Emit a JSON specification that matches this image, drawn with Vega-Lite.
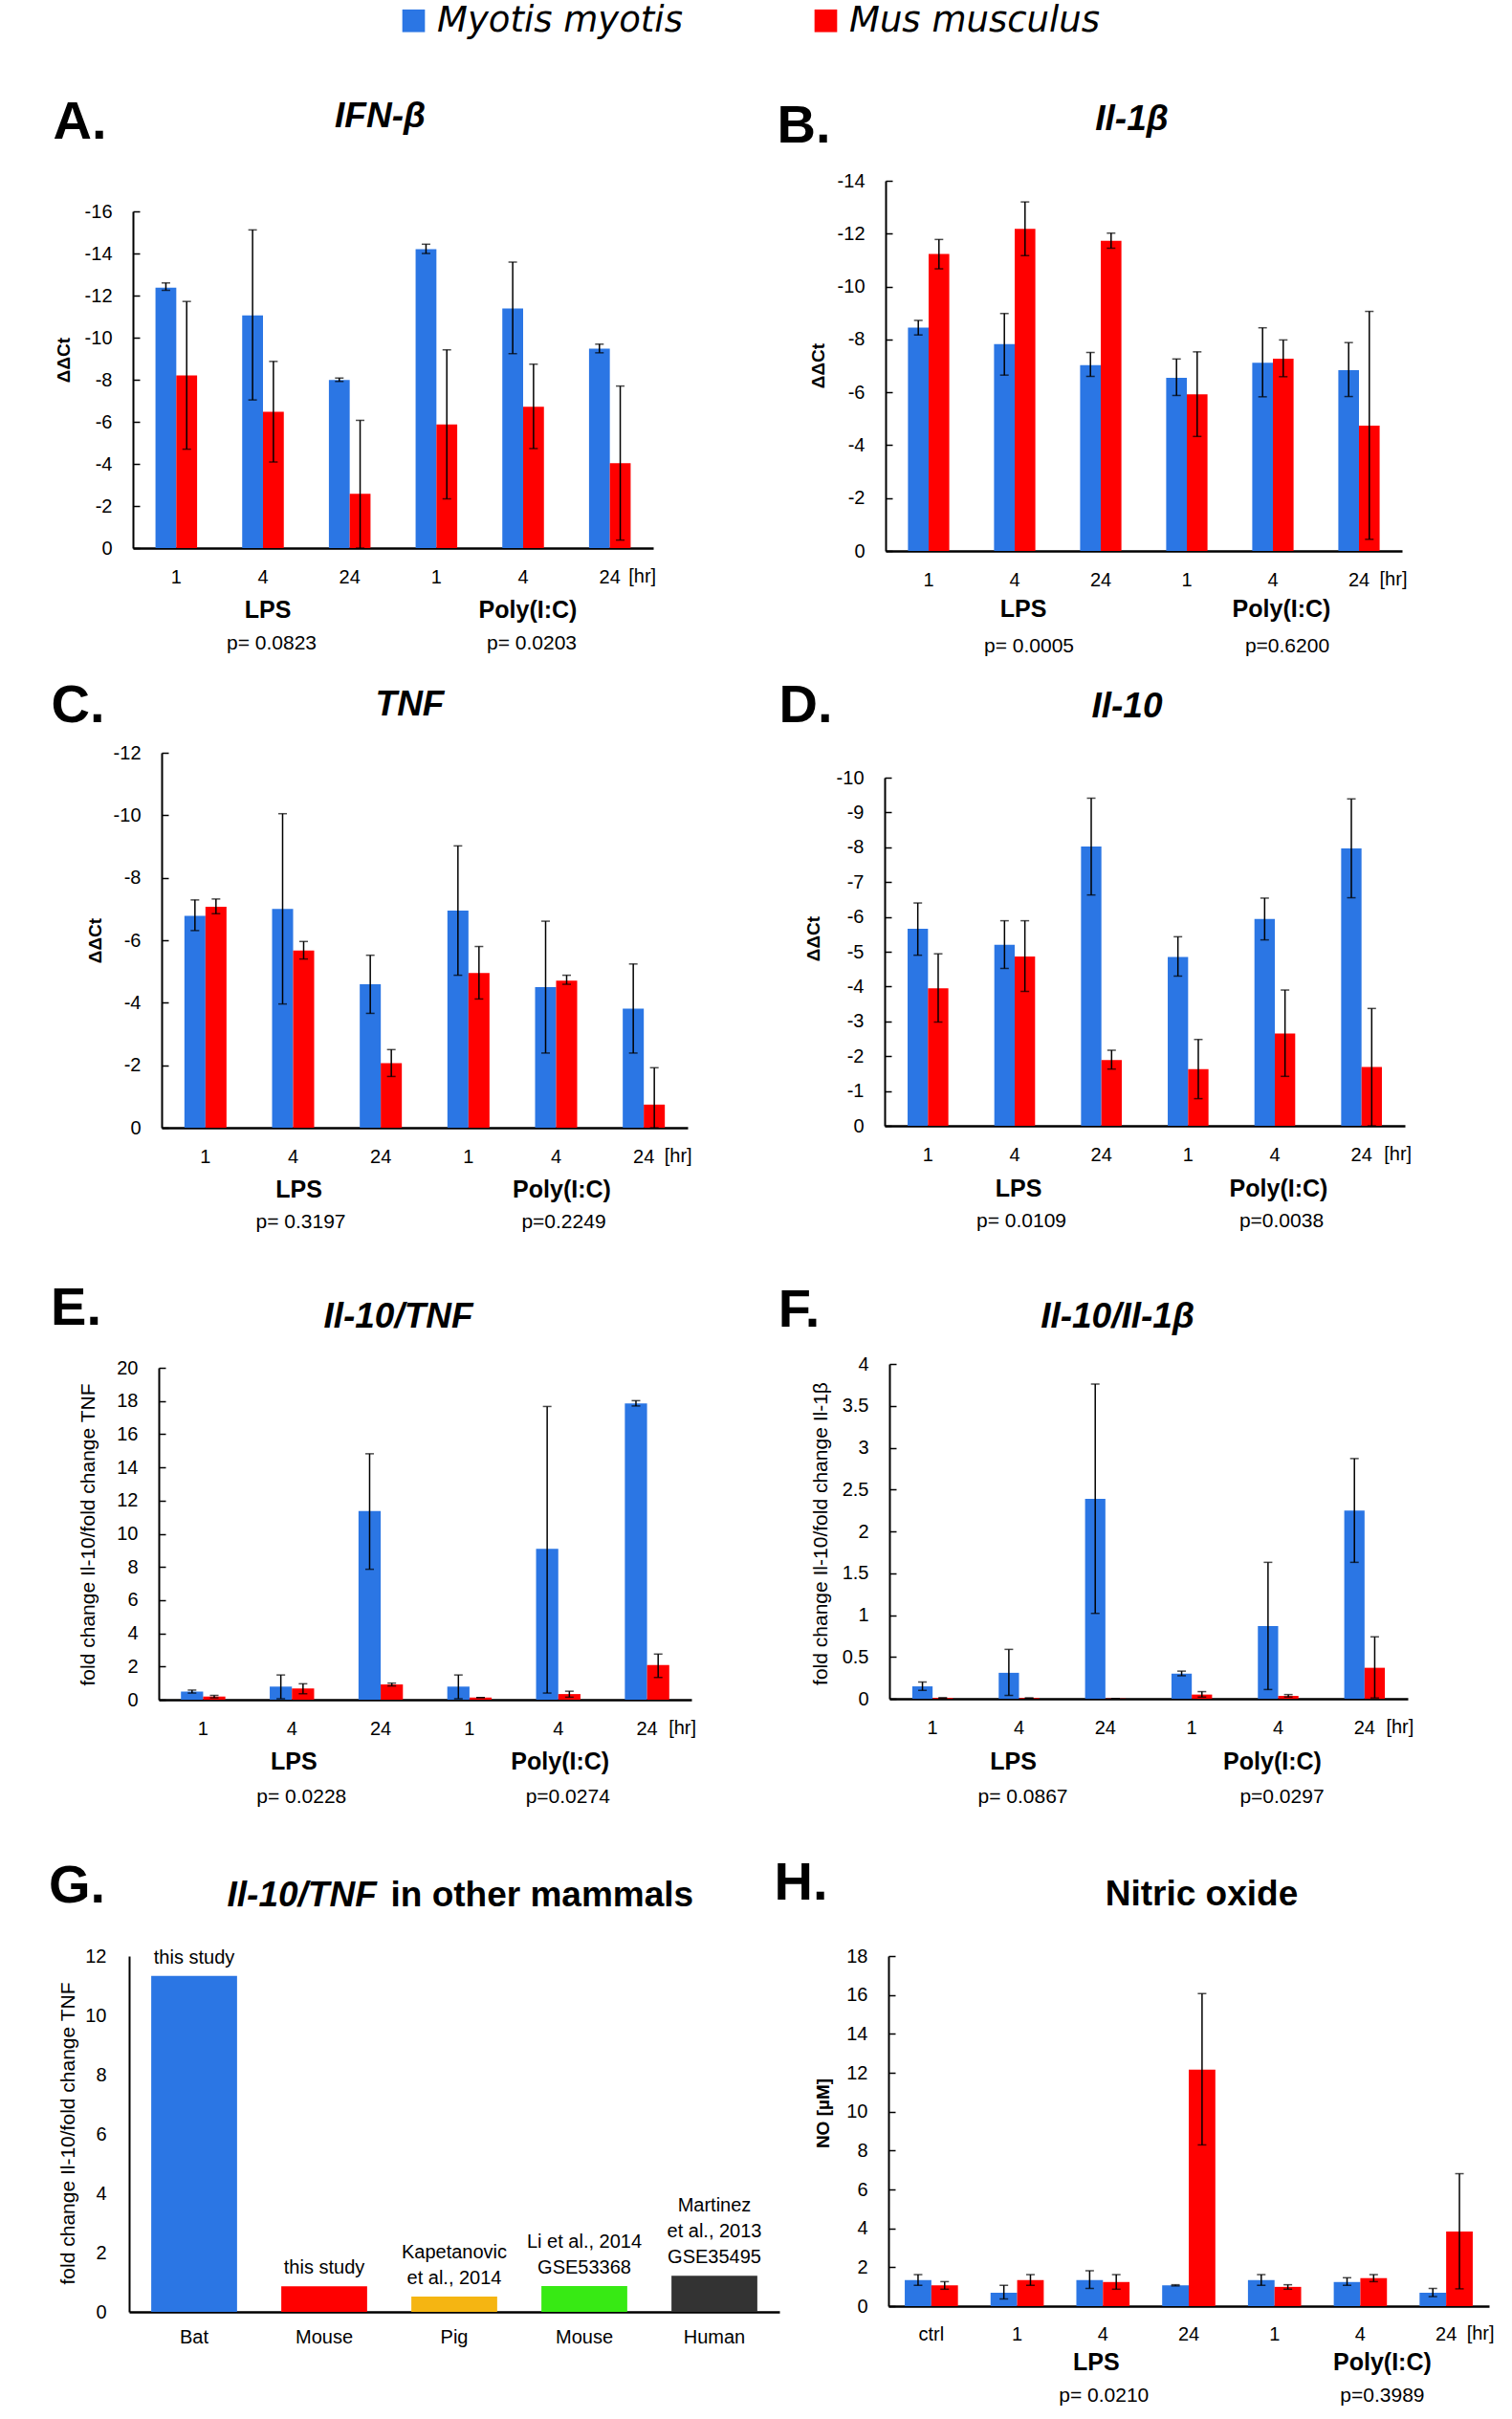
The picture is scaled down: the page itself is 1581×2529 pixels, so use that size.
{
"$schema": "https://vega.github.io/schema/vega-lite/v6.json",
"background": "white",
"padding": {"left": 50, "top": 3, "right": 0, "bottom": 0},
"bounds": "flush",
"align": "each",
"columns": 2,
"spacing": 10,
"resolve": {"scale": {"color": "independent", "xOffset": "independent"}},
"datasets": {
"A": [
{"cond":"LPS 1","sp":"Myotis myotis","v":-12.37,"hi":-12.6,"lo":-12.25},
{"cond":"LPS 1","sp":"Mus musculus","v":-8.2,"hi":-11.72,"lo":-4.7},
{"cond":"LPS 4","sp":"Myotis myotis","v":-11.06,"hi":-15.12,"lo":-7.04},
{"cond":"LPS 4","sp":"Mus musculus","v":-6.48,"hi":-8.87,"lo":-4.09},
{"cond":"LPS 24","sp":"Myotis myotis","v":-7.99,"hi":-8.08,"lo":-7.92},
{"cond":"LPS 24","sp":"Mus musculus","v":-2.58,"hi":-6.07,"lo":0},
{"cond":"Poly 1","sp":"Myotis myotis","v":-14.21,"hi":-14.44,"lo":-14.0},
{"cond":"Poly 1","sp":"Mus musculus","v":-5.87,"hi":-9.42,"lo":-2.34},
{"cond":"Poly 4","sp":"Myotis myotis","v":-11.39,"hi":-13.59,"lo":-9.24},
{"cond":"Poly 4","sp":"Mus musculus","v":-6.72,"hi":-8.74,"lo":-4.73},
{"cond":"Poly 24","sp":"Myotis myotis","v":-9.48,"hi":-9.69,"lo":-9.28},
{"cond":"Poly 24","sp":"Mus musculus","v":-4.03,"hi":-7.7,"lo":-0.38}
],
"B": [
{"cond":"LPS 1","sp":"Myotis myotis","v":-8.45,"hi":-8.72,"lo":-8.17},
{"cond":"LPS 1","sp":"Mus musculus","v":-11.23,"hi":-11.78,"lo":-10.67},
{"cond":"LPS 4","sp":"Myotis myotis","v":-7.82,"hi":-8.98,"lo":-6.65},
{"cond":"LPS 4","sp":"Mus musculus","v":-12.18,"hi":-13.2,"lo":-11.17},
{"cond":"LPS 24","sp":"Myotis myotis","v":-7.03,"hi":-7.51,"lo":-6.6},
{"cond":"LPS 24","sp":"Mus musculus","v":-11.73,"hi":-12.02,"lo":-11.45},
{"cond":"Poly 1","sp":"Myotis myotis","v":-6.55,"hi":-7.26,"lo":-5.88},
{"cond":"Poly 1","sp":"Mus musculus","v":-5.92,"hi":-7.53,"lo":-4.33},
{"cond":"Poly 4","sp":"Myotis myotis","v":-7.12,"hi":-8.44,"lo":-5.83},
{"cond":"Poly 4","sp":"Mus musculus","v":-7.27,"hi":-7.98,"lo":-6.59},
{"cond":"Poly 24","sp":"Myotis myotis","v":-6.84,"hi":-7.88,"lo":-5.84},
{"cond":"Poly 24","sp":"Mus musculus","v":-4.74,"hi":-9.06,"lo":-0.44}
],
"C": [
{"cond":"LPS 1","sp":"Myotis myotis","v":-6.78,"hi":-7.29,"lo":-6.31},
{"cond":"LPS 1","sp":"Mus musculus","v":-7.07,"hi":-7.32,"lo":-6.85},
{"cond":"LPS 4","sp":"Myotis myotis","v":-7.0,"hi":-10.05,"lo":-3.96},
{"cond":"LPS 4","sp":"Mus musculus","v":-5.67,"hi":-5.96,"lo":-5.4},
{"cond":"LPS 24","sp":"Myotis myotis","v":-4.59,"hi":-5.52,"lo":-3.66},
{"cond":"LPS 24","sp":"Mus musculus","v":-2.07,"hi":-2.5,"lo":-1.64},
{"cond":"Poly 1","sp":"Myotis myotis","v":-6.95,"hi":-9.02,"lo":-4.88},
{"cond":"Poly 1","sp":"Mus musculus","v":-4.95,"hi":-5.8,"lo":-4.12},
{"cond":"Poly 4","sp":"Myotis myotis","v":-4.5,"hi":-6.61,"lo":-2.39},
{"cond":"Poly 4","sp":"Mus musculus","v":-4.71,"hi":-4.88,"lo":-4.59},
{"cond":"Poly 24","sp":"Myotis myotis","v":-3.81,"hi":-5.24,"lo":-2.39},
{"cond":"Poly 24","sp":"Mus musculus","v":-0.74,"hi":-1.92,"lo":0}
],
"D": [
{"cond":"LPS 1","sp":"Myotis myotis","v":-5.66,"hi":-6.4,"lo":-4.9},
{"cond":"LPS 1","sp":"Mus musculus","v":-3.95,"hi":-4.94,"lo":-2.98},
{"cond":"LPS 4","sp":"Myotis myotis","v":-5.2,"hi":-5.89,"lo":-4.52},
{"cond":"LPS 4","sp":"Mus musculus","v":-4.86,"hi":-5.89,"lo":-3.86},
{"cond":"LPS 24","sp":"Myotis myotis","v":-8.02,"hi":-9.41,"lo":-6.63},
{"cond":"LPS 24","sp":"Mus musculus","v":-1.89,"hi":-2.17,"lo":-1.63},
{"cond":"Poly 1","sp":"Myotis myotis","v":-4.85,"hi":-5.43,"lo":-4.3},
{"cond":"Poly 1","sp":"Mus musculus","v":-1.63,"hi":-2.48,"lo":-0.78},
{"cond":"Poly 4","sp":"Myotis myotis","v":-5.94,"hi":-6.54,"lo":-5.34},
{"cond":"Poly 4","sp":"Mus musculus","v":-2.65,"hi":-3.9,"lo":-1.42},
{"cond":"Poly 24","sp":"Myotis myotis","v":-7.97,"hi":-9.39,"lo":-6.55},
{"cond":"Poly 24","sp":"Mus musculus","v":-1.69,"hi":-3.37,"lo":0}
],
"E": [
{"cond":"LPS 1","sp":"Myotis myotis","v":0.49,"hi":0.58,"lo":0.4},
{"cond":"LPS 1","sp":"Mus musculus","v":0.19,"hi":0.26,"lo":0.11},
{"cond":"LPS 4","sp":"Myotis myotis","v":0.79,"hi":1.49,"lo":0.06},
{"cond":"LPS 4","sp":"Mus musculus","v":0.68,"hi":0.96,"lo":0.36},
{"cond":"LPS 24","sp":"Myotis myotis","v":11.37,"hi":14.82,"lo":7.86},
{"cond":"LPS 24","sp":"Mus musculus","v":0.92,"hi":1.0,"lo":0.83},
{"cond":"Poly 1","sp":"Myotis myotis","v":0.79,"hi":1.49,"lo":0.06},
{"cond":"Poly 1","sp":"Mus musculus","v":0.13,"hi":0.13,"lo":0.13},
{"cond":"Poly 4","sp":"Myotis myotis","v":9.09,"hi":17.67,"lo":0.4},
{"cond":"Poly 4","sp":"Mus musculus","v":0.34,"hi":0.51,"lo":0.15},
{"cond":"Poly 24","sp":"Myotis myotis","v":17.85,"hi":18.02,"lo":17.7},
{"cond":"Poly 24","sp":"Mus musculus","v":2.09,"hi":2.75,"lo":1.34}
],
"F": [
{"cond":"LPS 1","sp":"Myotis myotis","v":0.148,"hi":0.2,"lo":0.1},
{"cond":"LPS 1","sp":"Mus musculus","v":0.01,"hi":0.01,"lo":0.01},
{"cond":"LPS 4","sp":"Myotis myotis","v":0.31,"hi":0.59,"lo":0.04},
{"cond":"LPS 4","sp":"Mus musculus","v":0.008,"hi":0.008,"lo":0.008},
{"cond":"LPS 24","sp":"Myotis myotis","v":2.39,"hi":3.76,"lo":1.02},
{"cond":"LPS 24","sp":"Mus musculus","v":0.003,"hi":0.003,"lo":0.003},
{"cond":"Poly 1","sp":"Myotis myotis","v":0.3,"hi":0.33,"lo":0.275},
{"cond":"Poly 1","sp":"Mus musculus","v":0.05,"hi":0.085,"lo":0.02},
{"cond":"Poly 4","sp":"Myotis myotis","v":0.87,"hi":1.63,"lo":0.11},
{"cond":"Poly 4","sp":"Mus musculus","v":0.034,"hi":0.05,"lo":0.02},
{"cond":"Poly 24","sp":"Myotis myotis","v":2.25,"hi":2.87,"lo":1.63},
{"cond":"Poly 24","sp":"Mus musculus","v":0.37,"hi":0.74,"lo":0.01}
],
"G": [
{"src":"Bat","v":11.33,"l0":"this study"},
{"src":"Mouse","v":0.86,"l0":"this study"},
{"src":"Pig","v":0.52,"l0":"et al., 2014","l1":"Kapetanovic"},
{"src":"Mouse2","v":0.87,"l0":"GSE53368","l1":"Li et al., 2014"},
{"src":"Human","v":1.22,"l0":"GSE35495","l1":"et al., 2013","l2":"Martinez"}
],
"H": [
{"cond":"ctrl","sp":"Myotis myotis","v":1.34,"hi":1.62,"lo":1.07},
{"cond":"ctrl","sp":"Mus musculus","v":1.07,"hi":1.26,"lo":0.87},
{"cond":"LPS 1","sp":"Myotis myotis","v":0.69,"hi":1.07,"lo":0.37},
{"cond":"LPS 1","sp":"Mus musculus","v":1.34,"hi":1.62,"lo":1.07},
{"cond":"LPS 4","sp":"Myotis myotis","v":1.34,"hi":1.82,"lo":0.91},
{"cond":"LPS 4","sp":"Mus musculus","v":1.24,"hi":1.62,"lo":0.87},
{"cond":"LPS 24","sp":"Myotis myotis","v":1.07,"hi":1.1,"lo":1.04},
{"cond":"LPS 24","sp":"Mus musculus","v":12.16,"hi":16.07,"lo":8.29},
{"cond":"Poly 1","sp":"Myotis myotis","v":1.34,"hi":1.62,"lo":1.07},
{"cond":"Poly 1","sp":"Mus musculus","v":0.99,"hi":1.1,"lo":0.87},
{"cond":"Poly 4","sp":"Myotis myotis","v":1.24,"hi":1.46,"lo":1.07},
{"cond":"Poly 4","sp":"Mus musculus","v":1.44,"hi":1.62,"lo":1.26},
{"cond":"Poly 24","sp":"Myotis myotis","v":0.69,"hi":0.91,"lo":0.49},
{"cond":"Poly 24","sp":"Mus musculus","v":3.83,"hi":6.81,"lo":0.89}
],
"annA": [{"cond":"LPS 4","k":"g","t":"LPS"},{"cond":"Poly 4","k":"g","t":"Poly(I:C)"},{"cond":"LPS 4","k":"p","t":"p= 0.0823"},{"cond":"Poly 4","k":"p","t":"p= 0.0203"},{"cond":"Poly 24","k":"h","t":"[hr]"}],
"annB": [{"cond":"LPS 4","k":"g","t":"LPS"},{"cond":"Poly 4","k":"g","t":"Poly(I:C)"},{"cond":"LPS 4","k":"p","t":"p= 0.0005"},{"cond":"Poly 4","k":"p","t":"p=0.6200"},{"cond":"Poly 24","k":"h","t":"[hr]"}],
"annC": [{"cond":"LPS 4","k":"g","t":"LPS"},{"cond":"Poly 4","k":"g","t":"Poly(I:C)"},{"cond":"LPS 4","k":"p","t":"p= 0.3197"},{"cond":"Poly 4","k":"p","t":"p=0.2249"},{"cond":"Poly 24","k":"h","t":"[hr]"}],
"annD": [{"cond":"LPS 4","k":"g","t":"LPS"},{"cond":"Poly 4","k":"g","t":"Poly(I:C)"},{"cond":"LPS 4","k":"p","t":"p= 0.0109"},{"cond":"Poly 4","k":"p","t":"p=0.0038"},{"cond":"Poly 24","k":"h","t":"[hr]"}],
"annE": [{"cond":"LPS 4","k":"g","t":"LPS"},{"cond":"Poly 4","k":"g","t":"Poly(I:C)"},{"cond":"LPS 4","k":"p","t":"p= 0.0228"},{"cond":"Poly 4","k":"p","t":"p=0.0274"},{"cond":"Poly 24","k":"h","t":"[hr]"}],
"annF": [{"cond":"LPS 4","k":"g","t":"LPS"},{"cond":"Poly 4","k":"g","t":"Poly(I:C)"},{"cond":"LPS 4","k":"p","t":"p= 0.0867"},{"cond":"Poly 4","k":"p","t":"p=0.0297"},{"cond":"Poly 24","k":"h","t":"[hr]"}],
"annH": [{"cond":"LPS 4","k":"g","t":"LPS"},{"cond":"Poly 4","k":"g","t":"Poly(I:C)"},{"cond":"LPS 4","k":"p","t":"p= 0.0210"},{"cond":"Poly 4","k":"p","t":"p=0.3989"},{"cond":"Poly 24","k":"h","t":"[hr]"}]
},
"concat": [
{"width": 820, "height": 550, "resolve": {"axis": {"x": "independent", "y": "independent"}},
"layer": [
{"data": {"name": "A"}, "mark": {"type": "bar"},
"encoding": {
"x": {"field": "cond", "type": "nominal", "scale": {"domain": ["LPS 1","LPS 4","LPS 24","Poly 1","Poly 4","Poly 24"], "range": [89, 633], "paddingInner": 0.52, "paddingOuter": 0.26}, "axis": {"orient": "bottom", "offset": -117, "title": null, "ticks": false, "labelAngle": 0, "labelPadding": 30, "labelBaseline": "middle", "labelExpr": "indexof(datum.label, ' ') > 0 ? split(datum.label, ' ')[1] : datum.label", "domainWidth": 2.5}},
"xOffset": {"field": "sp", "type": "nominal", "scale": {"domain": ["Myotis myotis","Mus musculus"]}},
"y": {"field": "v", "type": "quantitative", "scale": {"domain": [0, -16], "range": [433, 81], "nice": false}, "axis": {"orient": "left", "offset": -89, "values": [0,-2,-4,-6,-8,-10,-12,-14,-16], "labelExpr": "'' + datum.value", "tickSize": -7, "labelPadding": 29, "title": "ΔΔCt", "titleX": -73, "titleY": 236, "titleAngle": -90, "titleAlign": "center", "titleBaseline": "middle", "titleFontSize": 19, "titleFontWeight": "bold"}},
"color": {"field": "sp", "type": "nominal", "scale": {"domain": ["Myotis myotis","Mus musculus"], "range": ["#2b76e4","#ff0000"]}, "legend": {"orient": "none", "legendX": 364, "legendY": -137, "direction": "horizontal", "title": null, "symbolType": "square", "symbolSize": 560, "symbolStrokeWidth": 0, "labelFont": "DejaVu Sans", "labelFontStyle": "italic", "labelFontSize": 37, "labelOffset": 6, "columnPadding": 131, "labelLimit": 500, "labelColor": "black"}}
}},
{"data": {"name": "A"}, "mark": {"type": "rule", "color": "black", "strokeWidth": 1.5},
"encoding": {
"x": {"field": "cond", "type": "nominal", "scale": {"domain": ["LPS 1","LPS 4","LPS 24","Poly 1","Poly 4","Poly 24"], "range": [89, 633], "paddingInner": 0.52, "paddingOuter": 0.26}, "axis": null},
"xOffset": {"field": "sp", "type": "nominal", "scale": {"domain": ["Myotis myotis","Mus musculus"]}},
"y": {"field": "hi", "type": "quantitative", "scale": {"domain": [0, -16], "range": [433, 81], "nice": false}, "axis": null},
"y2": {"field": "lo"}
}},
{"data": {"name": "A"}, "mark": {"type": "tick", "color": "black", "size": 9, "thickness": 1.5},
"encoding": {
"x": {"field": "cond", "type": "nominal", "scale": {"domain": ["LPS 1","LPS 4","LPS 24","Poly 1","Poly 4","Poly 24"], "range": [89, 633], "paddingInner": 0.52, "paddingOuter": 0.26}, "axis": null},
"xOffset": {"field": "sp", "type": "nominal", "scale": {"domain": ["Myotis myotis","Mus musculus"]}},
"y": {"field": "hi", "type": "quantitative", "scale": {"domain": [0, -16], "range": [433, 81], "nice": false}, "axis": null}
}},
{"data": {"name": "A"}, "mark": {"type": "tick", "color": "black", "size": 9, "thickness": 1.5},
"encoding": {
"x": {"field": "cond", "type": "nominal", "scale": {"domain": ["LPS 1","LPS 4","LPS 24","Poly 1","Poly 4","Poly 24"], "range": [89, 633], "paddingInner": 0.52, "paddingOuter": 0.26}, "axis": null},
"xOffset": {"field": "sp", "type": "nominal", "scale": {"domain": ["Myotis myotis","Mus musculus"]}},
"y": {"field": "lo", "type": "quantitative", "scale": {"domain": [0, -16], "range": [433, 81], "nice": false}, "axis": null}
}},
{"data": {"name": "annA"}, "transform": [{"filter": "datum.k == 'g'"}], "mark": {"type": "text", "fontSize": 25, "fontWeight": "bold", "baseline": "middle", "dx": 5, "dy": 65},
"encoding": {
"x": {"field": "cond", "type": "nominal", "scale": {"domain": ["LPS 1","LPS 4","LPS 24","Poly 1","Poly 4","Poly 24"], "range": [89, 633], "paddingInner": 0.52, "paddingOuter": 0.26}, "axis": {"orient": "top", "offset": 0, "labels": false, "ticks": false, "domain": false, "title": "IFN-β", "titleX": 347, "titleY": -19, "titleAngle": 0, "titleAlign": "center", "titleBaseline": "middle", "titleFontSize": 37, "titleFontWeight": "bold", "titleFontStyle": "italic"}},
"y": {"datum": 0, "type": "quantitative", "scale": {"domain": [0, -16], "range": [433, 81], "nice": false}, "axis": {"orient": "right", "offset": 0, "labels": false, "ticks": false, "domain": false, "title": "A.", "titleX": -787, "titleY": -13, "titleAngle": 0, "titleAlign": "center", "titleBaseline": "middle", "titleFontSize": 56, "titleFontWeight": "bold"}},
"text": {"field": "t"}
}},
{"data": {"name": "annA"}, "transform": [{"filter": "datum.k == 'p'"}], "mark": {"type": "text", "fontSize": 21, "baseline": "middle", "dx": 9, "dy": 100},
"encoding": {
"x": {"field": "cond", "type": "nominal", "scale": {"domain": ["LPS 1","LPS 4","LPS 24","Poly 1","Poly 4","Poly 24"], "range": [89, 633], "paddingInner": 0.52, "paddingOuter": 0.26}, "axis": null},
"y": {"datum": 0, "type": "quantitative", "scale": {"domain": [0, -16], "range": [433, 81], "nice": false}, "axis": null},
"text": {"field": "t"}
}},
{"data": {"name": "annA"}, "transform": [{"filter": "datum.k == 'h'"}], "mark": {"type": "text", "fontSize": 20, "baseline": "middle", "dx": 34, "dy": 30},
"encoding": {
"x": {"field": "cond", "type": "nominal", "scale": {"domain": ["LPS 1","LPS 4","LPS 24","Poly 1","Poly 4","Poly 24"], "range": [89, 633], "paddingInner": 0.52, "paddingOuter": 0.26}, "axis": null},
"y": {"datum": 0, "type": "quantitative", "scale": {"domain": [0, -16], "range": [433, 81], "nice": false}, "axis": null},
"text": {"field": "t"}
}}
]},
{"width": 690, "height": 550, "resolve": {"axis": {"x": "independent", "y": "independent"}},
"layer": [
{"data": {"name": "B"}, "mark": {"type": "bar"},
"encoding": {
"x": {"field": "cond", "type": "nominal", "scale": {"domain": ["LPS 1","LPS 4","LPS 24","Poly 1","Poly 4","Poly 24"], "range": [46, 586], "paddingInner": 0.52, "paddingOuter": 0.26}, "axis": {"orient": "bottom", "offset": -114, "title": null, "ticks": false, "labelAngle": 0, "labelPadding": 30, "labelBaseline": "middle", "labelExpr": "indexof(datum.label, ' ') > 0 ? split(datum.label, ' ')[1] : datum.label", "domainWidth": 2.5}},
"xOffset": {"field": "sp", "type": "nominal", "scale": {"domain": ["Myotis myotis","Mus musculus"]}},
"y": {"field": "v", "type": "quantitative", "scale": {"domain": [0, -14], "range": [436, 49], "nice": false}, "axis": {"orient": "left", "offset": -46, "values": [0,-2,-4,-6,-8,-10,-12,-14], "labelExpr": "'' + datum.value", "tickSize": -7, "labelPadding": 29, "title": "ΔΔCt", "titleX": -71, "titleY": 242, "titleAngle": -90, "titleAlign": "center", "titleBaseline": "middle", "titleFontSize": 19, "titleFontWeight": "bold"}},
"color": {"field": "sp", "type": "nominal", "scale": {"domain": ["Myotis myotis","Mus musculus"], "range": ["#2b76e4","#ff0000"]}, "legend": null}
}},
{"data": {"name": "B"}, "mark": {"type": "rule", "color": "black", "strokeWidth": 1.5},
"encoding": {
"x": {"field": "cond", "type": "nominal", "scale": {"domain": ["LPS 1","LPS 4","LPS 24","Poly 1","Poly 4","Poly 24"], "range": [46, 586], "paddingInner": 0.52, "paddingOuter": 0.26}, "axis": null},
"xOffset": {"field": "sp", "type": "nominal", "scale": {"domain": ["Myotis myotis","Mus musculus"]}},
"y": {"field": "hi", "type": "quantitative", "scale": {"domain": [0, -14], "range": [436, 49], "nice": false}, "axis": null},
"y2": {"field": "lo"}
}},
{"data": {"name": "B"}, "mark": {"type": "tick", "color": "black", "size": 9, "thickness": 1.5},
"encoding": {
"x": {"field": "cond", "type": "nominal", "scale": {"domain": ["LPS 1","LPS 4","LPS 24","Poly 1","Poly 4","Poly 24"], "range": [46, 586], "paddingInner": 0.52, "paddingOuter": 0.26}, "axis": null},
"xOffset": {"field": "sp", "type": "nominal", "scale": {"domain": ["Myotis myotis","Mus musculus"]}},
"y": {"field": "hi", "type": "quantitative", "scale": {"domain": [0, -14], "range": [436, 49], "nice": false}, "axis": null}
}},
{"data": {"name": "B"}, "mark": {"type": "tick", "color": "black", "size": 9, "thickness": 1.5},
"encoding": {
"x": {"field": "cond", "type": "nominal", "scale": {"domain": ["LPS 1","LPS 4","LPS 24","Poly 1","Poly 4","Poly 24"], "range": [46, 586], "paddingInner": 0.52, "paddingOuter": 0.26}, "axis": null},
"xOffset": {"field": "sp", "type": "nominal", "scale": {"domain": ["Myotis myotis","Mus musculus"]}},
"y": {"field": "lo", "type": "quantitative", "scale": {"domain": [0, -14], "range": [436, 49], "nice": false}, "axis": null}
}},
{"data": {"name": "annB"}, "transform": [{"filter": "datum.k == 'g'"}], "mark": {"type": "text", "fontSize": 25, "fontWeight": "bold", "baseline": "middle", "dx": 9, "dy": 61},
"encoding": {
"x": {"field": "cond", "type": "nominal", "scale": {"domain": ["LPS 1","LPS 4","LPS 24","Poly 1","Poly 4","Poly 24"], "range": [46, 586], "paddingInner": 0.52, "paddingOuter": 0.26}, "axis": {"orient": "top", "offset": 0, "labels": false, "ticks": false, "domain": false, "title": "Il-1β", "titleX": 303, "titleY": -16, "titleAngle": 0, "titleAlign": "center", "titleBaseline": "middle", "titleFontSize": 37, "titleFontWeight": "bold", "titleFontStyle": "italic"}},
"y": {"datum": 0, "type": "quantitative", "scale": {"domain": [0, -14], "range": [436, 49], "nice": false}, "axis": {"orient": "right", "offset": 0, "labels": false, "ticks": false, "domain": false, "title": "B.", "titleX": -730, "titleY": -9, "titleAngle": 0, "titleAlign": "center", "titleBaseline": "middle", "titleFontSize": 56, "titleFontWeight": "bold"}},
"text": {"field": "t"}
}},
{"data": {"name": "annB"}, "transform": [{"filter": "datum.k == 'p'"}], "mark": {"type": "text", "fontSize": 21, "baseline": "middle", "dx": 15, "dy": 100},
"encoding": {
"x": {"field": "cond", "type": "nominal", "scale": {"domain": ["LPS 1","LPS 4","LPS 24","Poly 1","Poly 4","Poly 24"], "range": [46, 586], "paddingInner": 0.52, "paddingOuter": 0.26}, "axis": null},
"y": {"datum": 0, "type": "quantitative", "scale": {"domain": [0, -14], "range": [436, 49], "nice": false}, "axis": null},
"text": {"field": "t"}
}},
{"data": {"name": "annB"}, "transform": [{"filter": "datum.k == 'h'"}], "mark": {"type": "text", "fontSize": 20, "baseline": "middle", "dx": 36, "dy": 30},
"encoding": {
"x": {"field": "cond", "type": "nominal", "scale": {"domain": ["LPS 1","LPS 4","LPS 24","Poly 1","Poly 4","Poly 24"], "range": [46, 586], "paddingInner": 0.52, "paddingOuter": 0.26}, "axis": null},
"y": {"datum": 0, "type": "quantitative", "scale": {"domain": [0, -14], "range": [436, 49], "nice": false}, "axis": null},
"text": {"field": "t"}
}}
]},
{"width": 820, "height": 610, "resolve": {"axis": {"x": "independent", "y": "independent"}},
"layer": [
{"data": {"name": "C"}, "mark": {"type": "bar"},
"encoding": {
"x": {"field": "cond", "type": "nominal", "scale": {"domain": ["LPS 1","LPS 4","LPS 24","Poly 1","Poly 4","Poly 24"], "range": [119, 669], "paddingInner": 0.52, "paddingOuter": 0.26}, "axis": {"orient": "bottom", "offset": -131, "title": null, "ticks": false, "labelAngle": 0, "labelPadding": 30, "labelBaseline": "middle", "labelExpr": "indexof(datum.label, ' ') > 0 ? split(datum.label, ' ')[1] : datum.label", "domainWidth": 2.5}},
"xOffset": {"field": "sp", "type": "nominal", "scale": {"domain": ["Myotis myotis","Mus musculus"]}},
"y": {"field": "v", "type": "quantitative", "scale": {"domain": [0, -12], "range": [479, 87], "nice": false}, "axis": {"orient": "left", "offset": -119, "values": [0,-2,-4,-6,-8,-10,-12], "labelExpr": "'' + datum.value", "tickSize": -7, "labelPadding": 29, "title": "ΔΔCt", "titleX": -70, "titleY": 283, "titleAngle": -90, "titleAlign": "center", "titleBaseline": "middle", "titleFontSize": 19, "titleFontWeight": "bold"}},
"color": {"field": "sp", "type": "nominal", "scale": {"domain": ["Myotis myotis","Mus musculus"], "range": ["#2b76e4","#ff0000"]}, "legend": null}
}},
{"data": {"name": "C"}, "mark": {"type": "rule", "color": "black", "strokeWidth": 1.5},
"encoding": {
"x": {"field": "cond", "type": "nominal", "scale": {"domain": ["LPS 1","LPS 4","LPS 24","Poly 1","Poly 4","Poly 24"], "range": [119, 669], "paddingInner": 0.52, "paddingOuter": 0.26}, "axis": null},
"xOffset": {"field": "sp", "type": "nominal", "scale": {"domain": ["Myotis myotis","Mus musculus"]}},
"y": {"field": "hi", "type": "quantitative", "scale": {"domain": [0, -12], "range": [479, 87], "nice": false}, "axis": null},
"y2": {"field": "lo"}
}},
{"data": {"name": "C"}, "mark": {"type": "tick", "color": "black", "size": 9, "thickness": 1.5},
"encoding": {
"x": {"field": "cond", "type": "nominal", "scale": {"domain": ["LPS 1","LPS 4","LPS 24","Poly 1","Poly 4","Poly 24"], "range": [119, 669], "paddingInner": 0.52, "paddingOuter": 0.26}, "axis": null},
"xOffset": {"field": "sp", "type": "nominal", "scale": {"domain": ["Myotis myotis","Mus musculus"]}},
"y": {"field": "hi", "type": "quantitative", "scale": {"domain": [0, -12], "range": [479, 87], "nice": false}, "axis": null}
}},
{"data": {"name": "C"}, "mark": {"type": "tick", "color": "black", "size": 9, "thickness": 1.5},
"encoding": {
"x": {"field": "cond", "type": "nominal", "scale": {"domain": ["LPS 1","LPS 4","LPS 24","Poly 1","Poly 4","Poly 24"], "range": [119, 669], "paddingInner": 0.52, "paddingOuter": 0.26}, "axis": null},
"xOffset": {"field": "sp", "type": "nominal", "scale": {"domain": ["Myotis myotis","Mus musculus"]}},
"y": {"field": "lo", "type": "quantitative", "scale": {"domain": [0, -12], "range": [479, 87], "nice": false}, "axis": null}
}},
{"data": {"name": "annC"}, "transform": [{"filter": "datum.k == 'g'"}], "mark": {"type": "text", "fontSize": 25, "fontWeight": "bold", "baseline": "middle", "dx": 6, "dy": 65},
"encoding": {
"x": {"field": "cond", "type": "nominal", "scale": {"domain": ["LPS 1","LPS 4","LPS 24","Poly 1","Poly 4","Poly 24"], "range": [119, 669], "paddingInner": 0.52, "paddingOuter": 0.26}, "axis": {"orient": "top", "offset": 0, "labels": false, "ticks": false, "domain": false, "title": "TNF", "titleX": 378, "titleY": 36, "titleAngle": 0, "titleAlign": "center", "titleBaseline": "middle", "titleFontSize": 37, "titleFontWeight": "bold", "titleFontStyle": "italic"}},
"y": {"datum": 0, "type": "quantitative", "scale": {"domain": [0, -12], "range": [479, 87], "nice": false}, "axis": {"orient": "right", "offset": 0, "labels": false, "ticks": false, "domain": false, "title": "C.", "titleX": -789, "titleY": 37, "titleAngle": 0, "titleAlign": "center", "titleBaseline": "middle", "titleFontSize": 56, "titleFontWeight": "bold"}},
"text": {"field": "t"}
}},
{"data": {"name": "annC"}, "transform": [{"filter": "datum.k == 'p'"}], "mark": {"type": "text", "fontSize": 21, "baseline": "middle", "dx": 8, "dy": 99},
"encoding": {
"x": {"field": "cond", "type": "nominal", "scale": {"domain": ["LPS 1","LPS 4","LPS 24","Poly 1","Poly 4","Poly 24"], "range": [119, 669], "paddingInner": 0.52, "paddingOuter": 0.26}, "axis": null},
"y": {"datum": 0, "type": "quantitative", "scale": {"domain": [0, -12], "range": [479, 87], "nice": false}, "axis": null},
"text": {"field": "t"}
}},
{"data": {"name": "annC"}, "transform": [{"filter": "datum.k == 'h'"}], "mark": {"type": "text", "fontSize": 20, "baseline": "middle", "dx": 36, "dy": 30},
"encoding": {
"x": {"field": "cond", "type": "nominal", "scale": {"domain": ["LPS 1","LPS 4","LPS 24","Poly 1","Poly 4","Poly 24"], "range": [119, 669], "paddingInner": 0.52, "paddingOuter": 0.26}, "axis": null},
"y": {"datum": 0, "type": "quantitative", "scale": {"domain": [0, -12], "range": [479, 87], "nice": false}, "axis": null},
"text": {"field": "t"}
}}
]},
{"width": 690, "height": 610, "resolve": {"axis": {"x": "independent", "y": "independent"}},
"layer": [
{"data": {"name": "D"}, "mark": {"type": "bar"},
"encoding": {
"x": {"field": "cond", "type": "nominal", "scale": {"domain": ["LPS 1","LPS 4","LPS 24","Poly 1","Poly 4","Poly 24"], "range": [45, 589], "paddingInner": 0.53, "paddingOuter": 0.265}, "axis": {"orient": "bottom", "offset": -133, "title": null, "ticks": false, "labelAngle": 0, "labelPadding": 30, "labelBaseline": "middle", "labelExpr": "indexof(datum.label, ' ') > 0 ? split(datum.label, ' ')[1] : datum.label", "domainWidth": 2.5}},
"xOffset": {"field": "sp", "type": "nominal", "scale": {"domain": ["Myotis myotis","Mus musculus"]}},
"y": {"field": "v", "type": "quantitative", "scale": {"domain": [0, -10], "range": [477, 113], "nice": false}, "axis": {"orient": "left", "offset": -45, "values": [0,-1,-2,-3,-4,-5,-6,-7,-8,-9,-10], "labelExpr": "'' + datum.value", "tickSize": -7, "labelPadding": 29, "title": "ΔΔCt", "titleX": -75, "titleY": 281, "titleAngle": -90, "titleAlign": "center", "titleBaseline": "middle", "titleFontSize": 19, "titleFontWeight": "bold"}},
"color": {"field": "sp", "type": "nominal", "scale": {"domain": ["Myotis myotis","Mus musculus"], "range": ["#2b76e4","#ff0000"]}, "legend": null}
}},
{"data": {"name": "D"}, "mark": {"type": "rule", "color": "black", "strokeWidth": 1.5},
"encoding": {
"x": {"field": "cond", "type": "nominal", "scale": {"domain": ["LPS 1","LPS 4","LPS 24","Poly 1","Poly 4","Poly 24"], "range": [45, 589], "paddingInner": 0.53, "paddingOuter": 0.265}, "axis": null},
"xOffset": {"field": "sp", "type": "nominal", "scale": {"domain": ["Myotis myotis","Mus musculus"]}},
"y": {"field": "hi", "type": "quantitative", "scale": {"domain": [0, -10], "range": [477, 113], "nice": false}, "axis": null},
"y2": {"field": "lo"}
}},
{"data": {"name": "D"}, "mark": {"type": "tick", "color": "black", "size": 9, "thickness": 1.5},
"encoding": {
"x": {"field": "cond", "type": "nominal", "scale": {"domain": ["LPS 1","LPS 4","LPS 24","Poly 1","Poly 4","Poly 24"], "range": [45, 589], "paddingInner": 0.53, "paddingOuter": 0.265}, "axis": null},
"xOffset": {"field": "sp", "type": "nominal", "scale": {"domain": ["Myotis myotis","Mus musculus"]}},
"y": {"field": "hi", "type": "quantitative", "scale": {"domain": [0, -10], "range": [477, 113], "nice": false}, "axis": null}
}},
{"data": {"name": "D"}, "mark": {"type": "tick", "color": "black", "size": 9, "thickness": 1.5},
"encoding": {
"x": {"field": "cond", "type": "nominal", "scale": {"domain": ["LPS 1","LPS 4","LPS 24","Poly 1","Poly 4","Poly 24"], "range": [45, 589], "paddingInner": 0.53, "paddingOuter": 0.265}, "axis": null},
"xOffset": {"field": "sp", "type": "nominal", "scale": {"domain": ["Myotis myotis","Mus musculus"]}},
"y": {"field": "lo", "type": "quantitative", "scale": {"domain": [0, -10], "range": [477, 113], "nice": false}, "axis": null}
}},
{"data": {"name": "annD"}, "transform": [{"filter": "datum.k == 'g'"}], "mark": {"type": "text", "fontSize": 25, "fontWeight": "bold", "baseline": "middle", "dx": 4, "dy": 66},
"encoding": {
"x": {"field": "cond", "type": "nominal", "scale": {"domain": ["LPS 1","LPS 4","LPS 24","Poly 1","Poly 4","Poly 24"], "range": [45, 589], "paddingInner": 0.53, "paddingOuter": 0.265}, "axis": {"orient": "top", "offset": 0, "labels": false, "ticks": false, "domain": false, "title": "Il-10", "titleX": 298, "titleY": 38, "titleAngle": 0, "titleAlign": "center", "titleBaseline": "middle", "titleFontSize": 37, "titleFontWeight": "bold", "titleFontStyle": "italic"}},
"y": {"datum": 0, "type": "quantitative", "scale": {"domain": [0, -10], "range": [477, 113], "nice": false}, "axis": {"orient": "right", "offset": 0, "labels": false, "ticks": false, "domain": false, "title": "D.", "titleX": -728, "titleY": 37, "titleAngle": 0, "titleAlign": "center", "titleBaseline": "middle", "titleFontSize": 56, "titleFontWeight": "bold"}},
"text": {"field": "t"}
}},
{"data": {"name": "annD"}, "transform": [{"filter": "datum.k == 'p'"}], "mark": {"type": "text", "fontSize": 21, "baseline": "middle", "dx": 7, "dy": 100},
"encoding": {
"x": {"field": "cond", "type": "nominal", "scale": {"domain": ["LPS 1","LPS 4","LPS 24","Poly 1","Poly 4","Poly 24"], "range": [45, 589], "paddingInner": 0.53, "paddingOuter": 0.265}, "axis": null},
"y": {"datum": 0, "type": "quantitative", "scale": {"domain": [0, -10], "range": [477, 113], "nice": false}, "axis": null},
"text": {"field": "t"}
}},
{"data": {"name": "annD"}, "transform": [{"filter": "datum.k == 'h'"}], "mark": {"type": "text", "fontSize": 20, "baseline": "middle", "dx": 38, "dy": 30},
"encoding": {
"x": {"field": "cond", "type": "nominal", "scale": {"domain": ["LPS 1","LPS 4","LPS 24","Poly 1","Poly 4","Poly 24"], "range": [45, 589], "paddingInner": 0.53, "paddingOuter": 0.265}, "axis": null},
"y": {"datum": 0, "type": "quantitative", "scale": {"domain": [0, -10], "range": [477, 113], "nice": false}, "axis": null},
"text": {"field": "t"}
}}
]},
{"width": 820, "height": 590, "resolve": {"axis": {"x": "independent", "y": "independent"}},
"layer": [
{"data": {"name": "E"}, "mark": {"type": "bar"},
"encoding": {
"x": {"field": "cond", "type": "nominal", "scale": {"domain": ["LPS 1","LPS 4","LPS 24","Poly 1","Poly 4","Poly 24"], "range": [116, 673], "paddingInner": 0.5, "paddingOuter": 0.25}, "axis": {"orient": "bottom", "offset": -133, "title": null, "ticks": false, "labelAngle": 0, "labelPadding": 30, "labelBaseline": "middle", "labelExpr": "indexof(datum.label, ' ') > 0 ? split(datum.label, ' ')[1] : datum.label", "domainWidth": 2.5}},
"xOffset": {"field": "sp", "type": "nominal", "scale": {"domain": ["Myotis myotis","Mus musculus"]}},
"y": {"field": "v", "type": "quantitative", "scale": {"domain": [0, 20], "range": [457, 110], "nice": false}, "axis": {"orient": "left", "offset": -116, "values": [0,2,4,6,8,10,12,14,16,18,20], "labelExpr": "'' + datum.value", "tickSize": -7, "labelPadding": 29, "title": "fold change Il-10/fold change TNF", "titleX": -74, "titleY": 284, "titleAngle": -90, "titleAlign": "center", "titleBaseline": "middle", "titleFontSize": 21, "titleFontWeight": "normal"}},
"color": {"field": "sp", "type": "nominal", "scale": {"domain": ["Myotis myotis","Mus musculus"], "range": ["#2b76e4","#ff0000"]}, "legend": null}
}},
{"data": {"name": "E"}, "mark": {"type": "rule", "color": "black", "strokeWidth": 1.5},
"encoding": {
"x": {"field": "cond", "type": "nominal", "scale": {"domain": ["LPS 1","LPS 4","LPS 24","Poly 1","Poly 4","Poly 24"], "range": [116, 673], "paddingInner": 0.5, "paddingOuter": 0.25}, "axis": null},
"xOffset": {"field": "sp", "type": "nominal", "scale": {"domain": ["Myotis myotis","Mus musculus"]}},
"y": {"field": "hi", "type": "quantitative", "scale": {"domain": [0, 20], "range": [457, 110], "nice": false}, "axis": null},
"y2": {"field": "lo"}
}},
{"data": {"name": "E"}, "mark": {"type": "tick", "color": "black", "size": 9, "thickness": 1.5},
"encoding": {
"x": {"field": "cond", "type": "nominal", "scale": {"domain": ["LPS 1","LPS 4","LPS 24","Poly 1","Poly 4","Poly 24"], "range": [116, 673], "paddingInner": 0.5, "paddingOuter": 0.25}, "axis": null},
"xOffset": {"field": "sp", "type": "nominal", "scale": {"domain": ["Myotis myotis","Mus musculus"]}},
"y": {"field": "hi", "type": "quantitative", "scale": {"domain": [0, 20], "range": [457, 110], "nice": false}, "axis": null}
}},
{"data": {"name": "E"}, "mark": {"type": "tick", "color": "black", "size": 9, "thickness": 1.5},
"encoding": {
"x": {"field": "cond", "type": "nominal", "scale": {"domain": ["LPS 1","LPS 4","LPS 24","Poly 1","Poly 4","Poly 24"], "range": [116, 673], "paddingInner": 0.5, "paddingOuter": 0.25}, "axis": null},
"xOffset": {"field": "sp", "type": "nominal", "scale": {"domain": ["Myotis myotis","Mus musculus"]}},
"y": {"field": "lo", "type": "quantitative", "scale": {"domain": [0, 20], "range": [457, 110], "nice": false}, "axis": null}
}},
{"data": {"name": "annE"}, "transform": [{"filter": "datum.k == 'g'"}], "mark": {"type": "text", "fontSize": 25, "fontWeight": "bold", "baseline": "middle", "dx": 2, "dy": 65},
"encoding": {
"x": {"field": "cond", "type": "nominal", "scale": {"domain": ["LPS 1","LPS 4","LPS 24","Poly 1","Poly 4","Poly 24"], "range": [116, 673], "paddingInner": 0.5, "paddingOuter": 0.25}, "axis": {"orient": "top", "offset": 0, "labels": false, "ticks": false, "domain": false, "title": "Il-10/TNF", "titleX": 366, "titleY": 56, "titleAngle": 0, "titleAlign": "center", "titleBaseline": "middle", "titleFontSize": 37, "titleFontWeight": "bold", "titleFontStyle": "italic"}},
"y": {"datum": 0, "type": "quantitative", "scale": {"domain": [0, 20], "range": [457, 110], "nice": false}, "axis": {"orient": "right", "offset": 0, "labels": false, "ticks": false, "domain": false, "title": "E.", "titleX": -791, "titleY": 47, "titleAngle": 0, "titleAlign": "center", "titleBaseline": "middle", "titleFontSize": 56, "titleFontWeight": "bold"}},
"text": {"field": "t"}
}},
{"data": {"name": "annE"}, "transform": [{"filter": "datum.k == 'p'"}], "mark": {"type": "text", "fontSize": 21, "baseline": "middle", "dx": 10, "dy": 102},
"encoding": {
"x": {"field": "cond", "type": "nominal", "scale": {"domain": ["LPS 1","LPS 4","LPS 24","Poly 1","Poly 4","Poly 24"], "range": [116, 673], "paddingInner": 0.5, "paddingOuter": 0.25}, "axis": null},
"y": {"datum": 0, "type": "quantitative", "scale": {"domain": [0, 20], "range": [457, 110], "nice": false}, "axis": null},
"text": {"field": "t"}
}},
{"data": {"name": "annE"}, "transform": [{"filter": "datum.k == 'h'"}], "mark": {"type": "text", "fontSize": 20, "baseline": "middle", "dx": 37, "dy": 30},
"encoding": {
"x": {"field": "cond", "type": "nominal", "scale": {"domain": ["LPS 1","LPS 4","LPS 24","Poly 1","Poly 4","Poly 24"], "range": [116, 673], "paddingInner": 0.5, "paddingOuter": 0.25}, "axis": null},
"y": {"datum": 0, "type": "quantitative", "scale": {"domain": [0, 20], "range": [457, 110], "nice": false}, "axis": null},
"text": {"field": "t"}
}}
]},
{"width": 690, "height": 590, "resolve": {"axis": {"x": "independent", "y": "independent"}},
"layer": [
{"data": {"name": "F"}, "mark": {"type": "bar"},
"encoding": {
"x": {"field": "cond", "type": "nominal", "scale": {"domain": ["LPS 1","LPS 4","LPS 24","Poly 1","Poly 4","Poly 24"], "range": [50, 592], "paddingInner": 0.53, "paddingOuter": 0.265}, "axis": {"orient": "bottom", "offset": -134, "title": null, "ticks": false, "labelAngle": 0, "labelPadding": 30, "labelBaseline": "middle", "labelExpr": "indexof(datum.label, ' ') > 0 ? split(datum.label, ' ')[1] : datum.label", "domainWidth": 2.5}},
"xOffset": {"field": "sp", "type": "nominal", "scale": {"domain": ["Myotis myotis","Mus musculus"]}},
"y": {"field": "v", "type": "quantitative", "scale": {"domain": [0, 4], "range": [456, 106], "nice": false}, "axis": {"orient": "left", "offset": -50, "values": [0,0.5,1,1.5,2,2.5,3,3.5,4], "labelExpr": "'' + datum.value", "tickSize": -7, "labelPadding": 29, "title": "fold change Il-10/fold change Il-1β", "titleX": -72, "titleY": 283, "titleAngle": -90, "titleAlign": "center", "titleBaseline": "middle", "titleFontSize": 21, "titleFontWeight": "normal"}},
"color": {"field": "sp", "type": "nominal", "scale": {"domain": ["Myotis myotis","Mus musculus"], "range": ["#2b76e4","#ff0000"]}, "legend": null}
}},
{"data": {"name": "F"}, "mark": {"type": "rule", "color": "black", "strokeWidth": 1.5},
"encoding": {
"x": {"field": "cond", "type": "nominal", "scale": {"domain": ["LPS 1","LPS 4","LPS 24","Poly 1","Poly 4","Poly 24"], "range": [50, 592], "paddingInner": 0.53, "paddingOuter": 0.265}, "axis": null},
"xOffset": {"field": "sp", "type": "nominal", "scale": {"domain": ["Myotis myotis","Mus musculus"]}},
"y": {"field": "hi", "type": "quantitative", "scale": {"domain": [0, 4], "range": [456, 106], "nice": false}, "axis": null},
"y2": {"field": "lo"}
}},
{"data": {"name": "F"}, "mark": {"type": "tick", "color": "black", "size": 9, "thickness": 1.5},
"encoding": {
"x": {"field": "cond", "type": "nominal", "scale": {"domain": ["LPS 1","LPS 4","LPS 24","Poly 1","Poly 4","Poly 24"], "range": [50, 592], "paddingInner": 0.53, "paddingOuter": 0.265}, "axis": null},
"xOffset": {"field": "sp", "type": "nominal", "scale": {"domain": ["Myotis myotis","Mus musculus"]}},
"y": {"field": "hi", "type": "quantitative", "scale": {"domain": [0, 4], "range": [456, 106], "nice": false}, "axis": null}
}},
{"data": {"name": "F"}, "mark": {"type": "tick", "color": "black", "size": 9, "thickness": 1.5},
"encoding": {
"x": {"field": "cond", "type": "nominal", "scale": {"domain": ["LPS 1","LPS 4","LPS 24","Poly 1","Poly 4","Poly 24"], "range": [50, 592], "paddingInner": 0.53, "paddingOuter": 0.265}, "axis": null},
"xOffset": {"field": "sp", "type": "nominal", "scale": {"domain": ["Myotis myotis","Mus musculus"]}},
"y": {"field": "lo", "type": "quantitative", "scale": {"domain": [0, 4], "range": [456, 106], "nice": false}, "axis": null}
}},
{"data": {"name": "annF"}, "transform": [{"filter": "datum.k == 'g'"}], "mark": {"type": "text", "fontSize": 25, "fontWeight": "bold", "baseline": "middle", "dx": -6, "dy": 66},
"encoding": {
"x": {"field": "cond", "type": "nominal", "scale": {"domain": ["LPS 1","LPS 4","LPS 24","Poly 1","Poly 4","Poly 24"], "range": [50, 592], "paddingInner": 0.53, "paddingOuter": 0.265}, "axis": {"orient": "top", "offset": 0, "labels": false, "ticks": false, "domain": false, "title": "Il-10/Il-1β", "titleX": 288, "titleY": 56, "titleAngle": 0, "titleAlign": "center", "titleBaseline": "middle", "titleFontSize": 37, "titleFontWeight": "bold", "titleFontStyle": "italic"}},
"y": {"datum": 0, "type": "quantitative", "scale": {"domain": [0, 4], "range": [456, 106], "nice": false}, "axis": {"orient": "right", "offset": 0, "labels": false, "ticks": false, "domain": false, "title": "F.", "titleX": -735, "titleY": 49, "titleAngle": 0, "titleAlign": "center", "titleBaseline": "middle", "titleFontSize": 56, "titleFontWeight": "bold"}},
"text": {"field": "t"}
}},
{"data": {"name": "annF"}, "transform": [{"filter": "datum.k == 'p'"}], "mark": {"type": "text", "fontSize": 21, "baseline": "middle", "dx": 4, "dy": 103},
"encoding": {
"x": {"field": "cond", "type": "nominal", "scale": {"domain": ["LPS 1","LPS 4","LPS 24","Poly 1","Poly 4","Poly 24"], "range": [50, 592], "paddingInner": 0.53, "paddingOuter": 0.265}, "axis": null},
"y": {"datum": 0, "type": "quantitative", "scale": {"domain": [0, 4], "range": [456, 106], "nice": false}, "axis": null},
"text": {"field": "t"}
}},
{"data": {"name": "annF"}, "transform": [{"filter": "datum.k == 'h'"}], "mark": {"type": "text", "fontSize": 20, "baseline": "middle", "dx": 37, "dy": 30},
"encoding": {
"x": {"field": "cond", "type": "nominal", "scale": {"domain": ["LPS 1","LPS 4","LPS 24","Poly 1","Poly 4","Poly 24"], "range": [50, 592], "paddingInner": 0.53, "paddingOuter": 0.265}, "axis": null},
"y": {"datum": 0, "type": "quantitative", "scale": {"domain": [0, 4], "range": [456, 106], "nice": false}, "axis": null},
"text": {"field": "t"}
}}
]},
{"width": 820, "height": 520, "resolve": {"axis": {"x": "independent", "y": "independent"}},
"layer": [
{"data": {"name": "G"}, "mark": {"type": "bar"},
"encoding": {
"x": {"field": "src", "type": "nominal", "scale": {"domain": ["Bat","Mouse","Pig","Mouse2","Human"], "range": [85, 765], "paddingInner": 0.34, "paddingOuter": 0.17}, "axis": {"orient": "bottom", "offset": -23, "ticks": false, "labelAngle": 0, "labelPadding": 26, "labelBaseline": "middle", "labelExpr": "datum.label == 'Mouse2' ? 'Mouse' : datum.label", "domainWidth": 2.5, "title": "in other mammals", "titleX": 358, "titleY": -436, "titleAngle": 0, "titleAlign": "left", "titleBaseline": "middle", "titleFontSize": 37, "titleFontWeight": "bold"}},
"y": {"field": "v", "type": "quantitative", "scale": {"domain": [0, 12], "range": [497, 125], "nice": false}, "axis": {"orient": "left", "offset": -85, "values": [0,2,4,6,8,10,12], "labelExpr": "'' + datum.value", "tickSize": 0, "labelPadding": 24, "title": "fold change Il-10/fold change TNF", "titleX": -64, "titleY": 310, "titleAngle": -90, "titleAlign": "center", "titleBaseline": "middle", "titleFontSize": 21, "titleFontWeight": "normal"}},
"color": {"field": "src", "type": "nominal", "scale": {"domain": ["Bat","Mouse","Pig","Mouse2","Human"], "range": ["#2b76e4","#ff0000","#f5b512","#37ea14","#333333"]}, "legend": null}
}},
{"data": {"name": "G"}, "mark": {"type": "text", "fontSize": 20, "baseline": "bottom", "dy": -9},
"encoding": {
"x": {"field": "src", "type": "nominal", "scale": {"domain": ["Bat","Mouse","Pig","Mouse2","Human"], "range": [85, 765], "paddingInner": 0.34, "paddingOuter": 0.17}, "axis": {"orient": "top", "offset": 0, "labels": false, "ticks": false, "domain": false, "title": "Il-10/TNF", "titleX": 187, "titleY": 61, "titleAngle": 0, "titleAlign": "left", "titleBaseline": "middle", "titleFontSize": 37, "titleFontWeight": "bold", "titleFontStyle": "italic"}},
"y": {"field": "v", "type": "quantitative", "scale": {"domain": [0, 12], "range": [497, 125], "nice": false}, "axis": {"orient": "right", "offset": 0, "labels": false, "ticks": false, "domain": false, "title": "G.", "titleX": -790, "titleY": 51, "titleAngle": 0, "titleAlign": "center", "titleBaseline": "middle", "titleFontSize": 56, "titleFontWeight": "bold"}},
"text": {"field": "l0"}
}},
{"data": {"name": "G"}, "transform": [{"filter": "isValid(datum.l1)"}], "mark": {"type": "text", "fontSize": 20, "baseline": "bottom", "dy": -36},
"encoding": {
"x": {"field": "src", "type": "nominal", "scale": {"domain": ["Bat","Mouse","Pig","Mouse2","Human"], "range": [85, 765], "paddingInner": 0.34, "paddingOuter": 0.17}, "axis": null},
"y": {"field": "v", "type": "quantitative", "scale": {"domain": [0, 12], "range": [497, 125], "nice": false}, "axis": null},
"text": {"field": "l1"}
}},
{"data": {"name": "G"}, "transform": [{"filter": "isValid(datum.l2)"}], "mark": {"type": "text", "fontSize": 20, "baseline": "bottom", "dy": -63},
"encoding": {
"x": {"field": "src", "type": "nominal", "scale": {"domain": ["Bat","Mouse","Pig","Mouse2","Human"], "range": [85, 765], "paddingInner": 0.34, "paddingOuter": 0.17}, "axis": null},
"y": {"field": "v", "type": "quantitative", "scale": {"domain": [0, 12], "range": [497, 125], "nice": false}, "axis": null},
"text": {"field": "l2"}
}}
]},
{"width": 690, "height": 520, "resolve": {"axis": {"x": "independent", "y": "independent"}},
"layer": [
{"data": {"name": "H"}, "mark": {"type": "bar"},
"encoding": {
"x": {"field": "cond", "type": "nominal", "scale": {"domain": ["ctrl","LPS 1","LPS 4","LPS 24","Poly 1","Poly 4","Poly 24"], "range": [49, 677], "paddingInner": 0.38, "paddingOuter": 0.19}, "axis": {"orient": "bottom", "offset": -29, "title": null, "ticks": false, "labelAngle": 0, "labelPadding": 29, "labelBaseline": "middle", "labelExpr": "indexof(datum.label, ' ') > 0 ? split(datum.label, ' ')[1] : datum.label", "domainWidth": 2.5}},
"xOffset": {"field": "sp", "type": "nominal", "scale": {"domain": ["Myotis myotis","Mus musculus"]}},
"y": {"field": "v", "type": "quantitative", "scale": {"domain": [0, 18], "range": [491, 125], "nice": false}, "axis": {"orient": "left", "offset": -49, "values": [0,2,4,6,8,10,12,14,16,18], "labelExpr": "'' + datum.value", "tickSize": -7, "labelPadding": 29, "title": "NO [µM]", "titleX": -69, "titleY": 289, "titleAngle": -90, "titleAlign": "center", "titleBaseline": "middle", "titleFontSize": 19, "titleFontWeight": "bold"}},
"color": {"field": "sp", "type": "nominal", "scale": {"domain": ["Myotis myotis","Mus musculus"], "range": ["#2b76e4","#ff0000"]}, "legend": null}
}},
{"data": {"name": "H"}, "mark": {"type": "rule", "color": "black", "strokeWidth": 1.5},
"encoding": {
"x": {"field": "cond", "type": "nominal", "scale": {"domain": ["ctrl","LPS 1","LPS 4","LPS 24","Poly 1","Poly 4","Poly 24"], "range": [49, 677], "paddingInner": 0.38, "paddingOuter": 0.19}, "axis": null},
"xOffset": {"field": "sp", "type": "nominal", "scale": {"domain": ["Myotis myotis","Mus musculus"]}},
"y": {"field": "hi", "type": "quantitative", "scale": {"domain": [0, 18], "range": [491, 125], "nice": false}, "axis": null},
"y2": {"field": "lo"}
}},
{"data": {"name": "H"}, "mark": {"type": "tick", "color": "black", "size": 9, "thickness": 1.5},
"encoding": {
"x": {"field": "cond", "type": "nominal", "scale": {"domain": ["ctrl","LPS 1","LPS 4","LPS 24","Poly 1","Poly 4","Poly 24"], "range": [49, 677], "paddingInner": 0.38, "paddingOuter": 0.19}, "axis": null},
"xOffset": {"field": "sp", "type": "nominal", "scale": {"domain": ["Myotis myotis","Mus musculus"]}},
"y": {"field": "hi", "type": "quantitative", "scale": {"domain": [0, 18], "range": [491, 125], "nice": false}, "axis": null}
}},
{"data": {"name": "H"}, "mark": {"type": "tick", "color": "black", "size": 9, "thickness": 1.5},
"encoding": {
"x": {"field": "cond", "type": "nominal", "scale": {"domain": ["ctrl","LPS 1","LPS 4","LPS 24","Poly 1","Poly 4","Poly 24"], "range": [49, 677], "paddingInner": 0.38, "paddingOuter": 0.19}, "axis": null},
"xOffset": {"field": "sp", "type": "nominal", "scale": {"domain": ["Myotis myotis","Mus musculus"]}},
"y": {"field": "lo", "type": "quantitative", "scale": {"domain": [0, 18], "range": [491, 125], "nice": false}, "axis": null}
}},
{"data": {"name": "annH"}, "transform": [{"filter": "datum.k == 'g' && datum.cond == 'LPS 4'"}], "mark": {"type": "text", "fontSize": 25, "fontWeight": "bold", "baseline": "middle", "dx": -7, "dy": 59},
"encoding": {
"x": {"field": "cond", "type": "nominal", "scale": {"domain": ["ctrl","LPS 1","LPS 4","LPS 24","Poly 1","Poly 4","Poly 24"], "range": [49, 677], "paddingInner": 0.38, "paddingOuter": 0.19}, "axis": {"orient": "top", "offset": 0, "labels": false, "ticks": false, "domain": false, "title": "Nitric oxide", "titleX": 376, "titleY": 60, "titleAngle": 0, "titleAlign": "center", "titleBaseline": "middle", "titleFontSize": 37, "titleFontWeight": "bold"}},
"y": {"datum": 0, "type": "quantitative", "scale": {"domain": [0, 18], "range": [491, 125], "nice": false}, "axis": {"orient": "right", "offset": 0, "labels": false, "ticks": false, "domain": false, "title": "H.", "titleX": -733, "titleY": 48, "titleAngle": 0, "titleAlign": "center", "titleBaseline": "middle", "titleFontSize": 56, "titleFontWeight": "bold"}},
"text": {"field": "t"}
}},
{"data": {"name": "annH"}, "transform": [{"filter": "datum.k == 'g' && datum.cond == 'Poly 4'"}], "mark": {"type": "text", "fontSize": 25, "fontWeight": "bold", "baseline": "middle", "dx": 23, "dy": 59},
"encoding": {
"x": {"field": "cond", "type": "nominal", "scale": {"domain": ["ctrl","LPS 1","LPS 4","LPS 24","Poly 1","Poly 4","Poly 24"], "range": [49, 677], "paddingInner": 0.38, "paddingOuter": 0.19}, "axis": null},
"y": {"datum": 0, "type": "quantitative", "scale": {"domain": [0, 18], "range": [491, 125], "nice": false}, "axis": null},
"text": {"field": "t"}
}},
{"data": {"name": "annH"}, "transform": [{"filter": "datum.k == 'p' && datum.cond == 'LPS 4'"}], "mark": {"type": "text", "fontSize": 21, "baseline": "middle", "dx": 1, "dy": 94},
"encoding": {
"x": {"field": "cond", "type": "nominal", "scale": {"domain": ["ctrl","LPS 1","LPS 4","LPS 24","Poly 1","Poly 4","Poly 24"], "range": [49, 677], "paddingInner": 0.38, "paddingOuter": 0.19}, "axis": null},
"y": {"datum": 0, "type": "quantitative", "scale": {"domain": [0, 18], "range": [491, 125], "nice": false}, "axis": null},
"text": {"field": "t"}
}},
{"data": {"name": "annH"}, "transform": [{"filter": "datum.k == 'p' && datum.cond == 'Poly 4'"}], "mark": {"type": "text", "fontSize": 21, "baseline": "middle", "dx": 23, "dy": 94},
"encoding": {
"x": {"field": "cond", "type": "nominal", "scale": {"domain": ["ctrl","LPS 1","LPS 4","LPS 24","Poly 1","Poly 4","Poly 24"], "range": [49, 677], "paddingInner": 0.38, "paddingOuter": 0.19}, "axis": null},
"y": {"datum": 0, "type": "quantitative", "scale": {"domain": [0, 18], "range": [491, 125], "nice": false}, "axis": null},
"text": {"field": "t"}
}},
{"data": {"name": "annH"}, "transform": [{"filter": "datum.k == 'h'"}], "mark": {"type": "text", "fontSize": 20, "baseline": "middle", "dx": 36, "dy": 29},
"encoding": {
"x": {"field": "cond", "type": "nominal", "scale": {"domain": ["ctrl","LPS 1","LPS 4","LPS 24","Poly 1","Poly 4","Poly 24"], "range": [49, 677], "paddingInner": 0.38, "paddingOuter": 0.19}, "axis": null},
"y": {"datum": 0, "type": "quantitative", "scale": {"domain": [0, 18], "range": [491, 125], "nice": false}, "axis": null},
"text": {"field": "t"}
}}
]}
],
"config": {
"view": {"stroke": null},
"font": "Liberation Sans",
"axis": {"grid": false, "domainColor": "#000000", "domainWidth": 2, "tickColor": "#000000", "tickWidth": 1.5, "labelColor": "#000000", "titleColor": "#000000", "labelFont": "Liberation Sans", "titleFont": "Liberation Sans", "labelFontSize": 20},
"text": {"font": "Liberation Sans", "color": "#000000"}
}
}
